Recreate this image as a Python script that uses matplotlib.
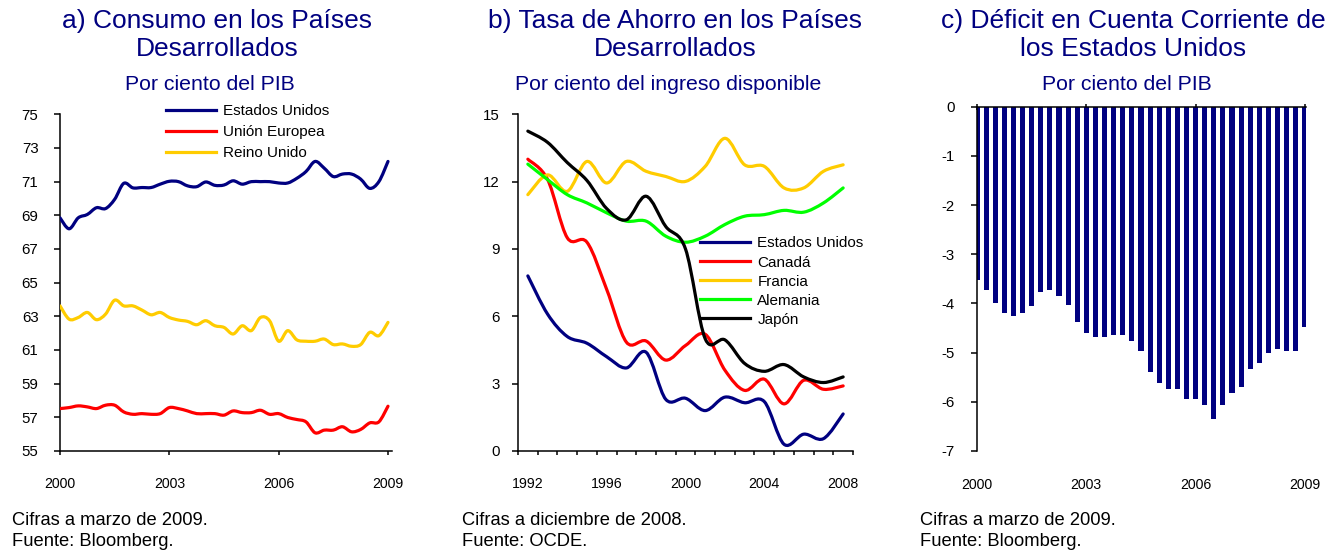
import matplotlib
matplotlib.use("Agg")
import matplotlib.pyplot as plt
import numpy as np
import pandas as pd
from matplotlib.path import Path
from matplotlib.patches import PathPatch
from matplotlib.lines import Line2D

plt.rcParams["font.family"] = ["Liberation Sans", "DejaVu Sans"]
plt.rcParams["axes.unicode_minus"] = False

NAVY = "#000080"
RED = "#FF0000"
YELLOW = "#FFCC00"
GREEN = "#00FF00"
BLACK = "#000000"

# ---- a) consumo, % del PIB, trimestral 2000T1-2009T1
QUARTERS = pd.period_range("2000Q1", "2009Q1", freq="Q")
cons_us = [68.85, 68.2, 68.85, 69.05, 69.45, 69.4, 69.95, 70.9, 70.63, 70.65,
           70.65, 70.85, 71.02, 71.0, 70.75, 70.7, 70.98, 70.78, 70.8, 71.05,
           70.85, 71.0, 71.0, 71.0, 70.92, 70.92, 71.2, 71.6, 72.2, 71.8,
           71.3, 71.45, 71.45, 71.15, 70.6, 71.0, 72.2]
cons_eu = [57.52, 57.58, 57.68, 57.62, 57.52, 57.72, 57.72, 57.32, 57.18, 57.22,
           57.18, 57.22, 57.58, 57.52, 57.38, 57.22, 57.22, 57.22, 57.13, 57.38,
           57.28, 57.28, 57.42, 57.18, 57.22, 56.99, 56.87, 56.73, 56.08, 56.24,
           56.24, 56.44, 56.14, 56.28, 56.67, 56.73, 57.66]
cons_uk = [63.62, 62.83, 62.93, 63.23, 62.8, 63.13, 63.96, 63.62, 63.62, 63.37,
           63.09, 63.23, 62.93, 62.78, 62.70, 62.5, 62.74, 62.44, 62.34, 61.95,
           62.44, 62.15, 62.93, 62.74, 61.52, 62.15, 61.6, 61.52, 61.52, 61.65,
           61.32, 61.36, 61.22, 61.32, 62.05, 61.85, 62.64]

# ---- b) tasa de ahorro, % del ingreso disponible, anual
YEARS_B = list(range(1992, 2009))
sav_us = [7.8, 6.1, 5.1, 4.8, 4.2, 3.7, 4.4, 2.3, 2.35, 1.8, 2.4, 2.15, 2.2, 0.3, 0.75, 0.55, 1.65]
sav_ca = [13.0, 12.1, 9.5, 9.3, 7.2, 4.85, 4.9, 4.05, 4.7, 5.2, 3.6, 2.7, 3.2, 2.1, 3.15, 2.75, 2.9]
sav_fr = [11.42, 12.3, 11.57, 12.9, 11.94, 12.9, 12.46, 12.23, 12.01, 12.68, 13.93, 12.75,
          12.68, 11.72, 11.72, 12.46, 12.75]
sav_de = [12.78, 12.09, 11.42, 11.05, 10.61, 10.24, 10.24, 9.57, 9.3, 9.57, 10.09, 10.46,
          10.53, 10.72, 10.64, 11.05, 11.72]
sav_jp = [14.25, 13.75, 12.85, 12.05, 10.8, 10.3, 11.35, 10.0, 9.0, 5.0, 4.95, 3.9,
          3.55, 3.85, 3.3, 3.05, 3.3]

# ---- c) deficit en cuenta corriente de EE.UU., % del PIB, trimestral
cc_us = [-3.52, -3.73, -4.0, -4.2, -4.25, -4.2, -4.05, -3.77, -3.73, -3.85,
         -4.04, -4.37, -4.6, -4.69, -4.69, -4.65, -4.65, -4.76, -4.97, -5.39,
         -5.62, -5.74, -5.74, -5.95, -5.95, -6.06, -6.34, -6.06, -5.83, -5.69,
         -5.33, -5.22, -5.01, -4.93, -4.97, -4.97, -4.48]

W, H = 1340, 550
LW = 2.3


def fx(px):
    return px / W


def fy(py):
    return 1 - py / H


def smooth_line(ax, x, y, color, zorder=3):
    """Smoothed line (Catmull-Rom as cubic Bezier), like the Excel original."""
    pts = np.column_stack([np.asarray(x, float), np.asarray(y, float)])
    ext = np.vstack([pts[0], pts, pts[-1]])
    verts = [pts[0]]
    codes = [Path.MOVETO]
    for i in range(len(pts) - 1):
        p0, p1, p2, p3 = ext[i], ext[i + 1], ext[i + 2], ext[i + 3]
        verts += [p1 + (p2 - p0) / 6, p2 - (p3 - p1) / 6, p2]
        codes += [Path.CURVE4] * 3
    ax.add_patch(PathPatch(Path(verts, codes), fill=False, edgecolor=color,
                           linewidth=LW, capstyle="round", joinstyle="round",
                           zorder=zorder))


def style_axes(ax):
    for s in ax.spines.values():
        s.set_linewidth(1.1)
        s.set_color("black")
    ax.spines["right"].set_visible(False)
    ax.spines["top"].set_visible(False)
    ax.tick_params(axis="y", direction="out", length=4.5, width=1.1,
                   labelsize=10.8, pad=11)
    ax.tick_params(axis="x", direction="out", length=3, width=1.1,
                   labelsize=10.2, pad=16)
    ax.set_facecolor("none")


def legend(ax, fig, handles, labels, x, y, spacing):
    ax.legend(handles, labels, loc="upper left", bbox_to_anchor=(fx(x), fy(y)),
              bbox_transform=fig.transFigure, frameon=False, fontsize=11,
              handlelength=3.3, handletextpad=0.45, labelspacing=spacing,
              borderpad=0, borderaxespad=0)


fig = plt.figure(figsize=(13.4, 5.5), dpi=100)

# ---------------- panel a
ax_a = fig.add_axes([fx(60), fy(451), fx(392 - 60), (451 - 114.3) / H])
xa = [p.year + (p.quarter - 1) / 4 for p in QUARTERS]
smooth_line(ax_a, xa, cons_us, NAVY)
smooth_line(ax_a, xa, cons_eu, RED)
smooth_line(ax_a, xa, cons_uk, YELLOW)
ax_a.set_xlim(2000, 2009.11)
ax_a.set_ylim(55, 75)
ax_a.set_yticks(range(55, 76, 2))
ax_a.set_xticks([2000, 2003, 2006, 2009])
style_axes(ax_a)
legend(ax_a, fig,
       [Line2D([0], [0], color=c, lw=LW) for c in (NAVY, RED, YELLOW)],
       ["Estados Unidos", "Unión Europea", "Reino Unido"], 166, 104.5, 0.45)

# ---------------- panel b
ax_b = fig.add_axes([fx(518), fy(451), fx(853 - 518), (451 - 114.3) / H])
for vals, col in ((sav_us, NAVY), (sav_ca, RED), (sav_fr, YELLOW),
                  (sav_de, GREEN), (sav_jp, BLACK)):
    smooth_line(ax_b, YEARS_B, vals, col)
ax_b.set_xlim(YEARS_B[0] - 0.5, YEARS_B[-1] + 0.5)
ax_b.set_ylim(0, 15)
ax_b.set_yticks(range(0, 16, 3))
style_axes(ax_b)
ax_b.set_xticks([y - 0.5 for y in YEARS_B] + [YEARS_B[-1] + 0.5])
ax_b.set_xticklabels([])
ax_b.set_xticks([1992, 1996, 2000, 2004, 2008], minor=True)
ax_b.set_xticklabels(["1992", "1996", "2000", "2004", "2008"], minor=True)
ax_b.tick_params(axis="x", which="minor", length=0, labelsize=10.2, pad=19)
ax_b.tick_params(axis="y", pad=8.5)
legend(ax_b, fig,
       [Line2D([0], [0], color=c, lw=LW) for c in (NAVY, RED, YELLOW, GREEN, BLACK)],
       ["Estados Unidos", "Canadá", "Francia", "Alemania", "Japón"], 700, 236.5, 0.33)

# ---------------- panel c
ax_c = fig.add_axes([fx(977), fy(451), fx(1306 - 977), (451 - 106.7) / H])
ax_c.bar(xa, cc_us, width=0.14, color=NAVY, zorder=2)
ax_c.set_xlim(2000, 2009.03)
ax_c.set_ylim(-7, 0)
ax_c.set_yticks(range(-7, 1))
style_axes(ax_c)
ax_c.spines["top"].set_visible(True)
ax_c.spines["bottom"].set_visible(False)
ax_c.set_xticks([2000, 2003, 2006, 2009])
ax_c.tick_params(axis="x", top=True, bottom=False, labeltop=False,
                 labelbottom=True, direction="inout", length=5, pad=16.6)
ax_c.tick_params(axis="y", pad=11.5)

# ---------------- titles and notes
titles = [
    (217, ["a) Consumo en los Países", "Desarrollados"], "Por ciento del PIB", 210,
     ["Cifras a marzo de 2009.", "Fuente: Bloomberg."], 12),
    (675.5, ["b) Tasa de Ahorro en los Países", "Desarrollados"],
     "Por ciento del ingreso disponible", 668,
     ["Cifras a diciembre de 2008.", "Fuente: OCDE."], 462),
    (1133, ["c) Déficit en Cuenta Corriente de", "los Estados Unidos"], "Por ciento del PIB", 1127,
     ["Cifras a marzo de 2009.", "Fuente: Bloomberg."], 920),
]
for cx, tlines, sub, sx, notes, nx in titles:
    fig.text(fx(cx), fy(28), tlines[0], ha="center", va="baseline",
             fontsize=19, color=NAVY)
    fig.text(fx(cx), fy(56), tlines[1], ha="center", va="baseline",
             fontsize=19, color=NAVY)
    fig.text(fx(sx), fy(90.5), sub, ha="center", va="baseline",
             fontsize=15.3, color=NAVY)
    fig.text(fx(nx), fy(525), notes[0], ha="left", va="baseline",
             fontsize=13.2, color="black")
    fig.text(fx(nx), fy(546.5), notes[1], ha="left", va="baseline",
             fontsize=13.2, color="black")

fig.savefig("out.png", dpi=100)
